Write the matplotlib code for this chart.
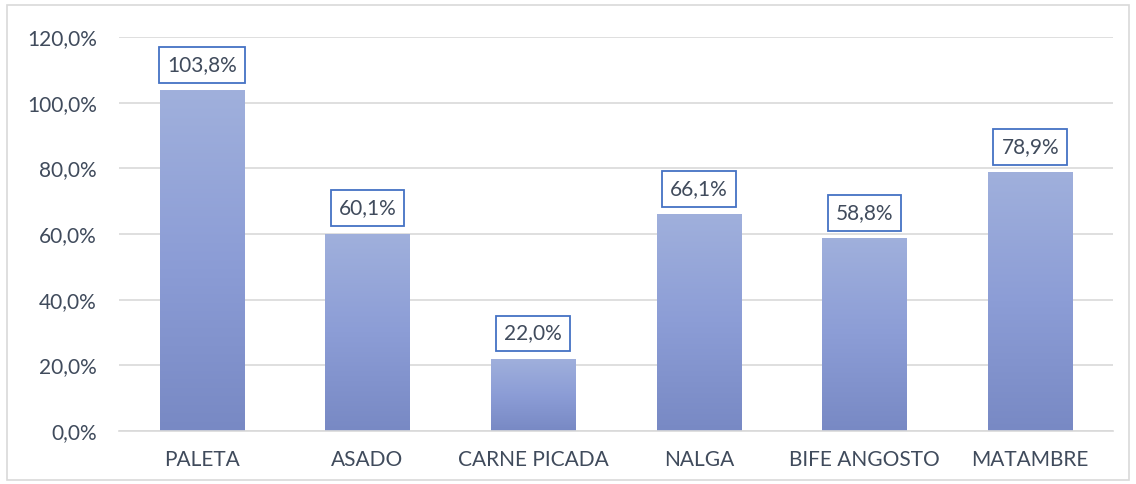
import matplotlib.pyplot as plt
import numpy as np
from matplotlib.colors import LinearSegmentedColormap
from matplotlib.patches import Rectangle
from matplotlib.ticker import FuncFormatter

categories = ["PALETA", "ASADO", "CARNE PICADA", "NALGA", "BIFE ANGOSTO", "MATAMBRE"]
values = [103.8, 60.1, 22.0, 66.1, 58.8, 78.9]
yticks = [0, 20, 40, 60, 80, 100, 120]

plt.rcParams["font.family"] = ["Lato", "DejaVu Sans"]
text_color = "#404b5c"

fig = plt.figure(figsize=(11.36, 4.84), dpi=100)
ax = fig.add_axes([0.1048, 0.1095, 0.875, 0.8141])

# light frame around the whole chart
fig.patches.append(Rectangle((0.006, 0.008), 0.988, 0.982, transform=fig.transFigure,
                             fill=False, edgecolor="#d9d9d9", linewidth=1.2))

x = np.arange(len(categories))
bars = ax.bar(x, values, width=0.51, color="none", edgecolor="none", zorder=2)

# vertical gradient in each bar
cmap = LinearSegmentedColormap.from_list("bar", ["#7889c4", "#8c9dd6", "#a0b0dc"])
grad = np.linspace(0, 1, 256).reshape(-1, 1)
for b in bars:
    x0, y0 = b.get_x(), b.get_y()
    w, h = b.get_width(), b.get_height()
    im = ax.imshow(grad, extent=[x0, x0 + w, y0, y0 + h], origin="lower",
                   cmap=cmap, aspect="auto", zorder=2)
    im.set_clip_path(b)

for xi, v in zip(x, values):
    ax.annotate(f"{v:.1f}%".replace(".", ","), (xi, v), xytext=(0, 11),
                textcoords="offset points", ha="center", va="bottom",
                fontsize=15, color=text_color, zorder=4,
                bbox=dict(boxstyle="square,pad=0.38", facecolor="white",
                          edgecolor="#4472c4", linewidth=1.3))

ax.set_xlim(-0.5, len(categories) - 0.5)
ax.set_ylim(0, 120)
ax.set_yticks(yticks)
ax.yaxis.set_major_formatter(FuncFormatter(lambda v, p: f"{v:.1f}%".replace(".", ",")))
ax.set_xticks(x)
ax.set_xticklabels(categories)
ax.tick_params(axis="both", length=0, labelsize=15, labelcolor=text_color)
ax.tick_params(axis="x", pad=14)
ax.tick_params(axis="y", pad=16)
ax.grid(axis="y", color="#d9d9d9", linewidth=1.2, zorder=0)
ax.set_axisbelow(True)
for side in ["top", "right", "left"]:
    ax.spines[side].set_visible(False)
ax.spines["bottom"].set_color("#d9d9d9")
ax.spines["bottom"].set_linewidth(1.2)

fig.savefig("out.png", dpi=100)
